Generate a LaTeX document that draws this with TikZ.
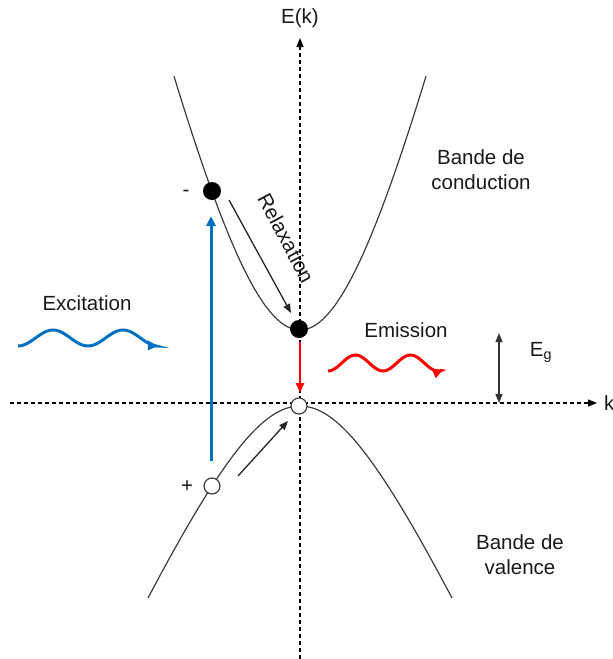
\documentclass[tikz,border=0pt]{standalone}
\usepackage{fontspec}
\setmainfont{Liberation Sans}
\usetikzlibrary{arrows.meta}
\definecolor{exblue}{RGB}{0,112,192}
\definecolor{curvegray}{RGB}{60,60,60}
\begin{document}
\begin{tikzpicture}[x=1pt,y=-1pt,
  txt/.style={font=\fontsize{20.5}{25}\selectfont, inner sep=0pt, text=black!90},
  axis/.style={draw=black, line width=1.3pt, dash pattern=on 4pt off 3pt, -{Triangle[length=9pt,width=7pt]}},
  band/.style={draw=curvegray, line width=1.2pt},
  bdot/.style={circle, fill=black, minimum size=18pt, inner sep=0pt},
  wdot/.style={circle, draw=curvegray, fill=white, line width=1.2pt, minimum size=16pt, inner sep=0pt},
  thinarrow/.style={draw=black!85, line width=1.3pt, -{Triangle[length=9pt,width=7pt]}},
  wave/.style={line width=3pt, -{Triangle[length=10pt,width=9pt]}}
]
\useasboundingbox (0,0) rectangle (613,659);
% axes
\coordinate (vb) at (300,659);
\coordinate (vt) at (300,38);
\coordinate (hl) at (10,403);
\coordinate (hr) at (597,403);
\draw[axis] (vb) -- (vt);
\draw[axis] (hl) -- (hr);
\node[txt] (Ek) at (300,18) {E(k)};
\node[txt, anchor=west] (k) at (604,403) {k};
% bands
\draw[band] plot[smooth, domain=-126:126, samples=61] ({300+\x},{330-417*(sqrt(1+(\x/100)*(\x/100))-1)});
\draw[band] plot[smooth, domain=-152:152, samples=61] ({300+\x},{406+189.5*(sqrt(1+(\x/87)*(\x/87))-1)});
% particles
\node[bdot] (e1) at (212,191) {};
\node[bdot] (e0) at (299,329) {};
\node[wdot] (h1) at (212,486) {};
\node[wdot] (h0) at (299,406) {};
\node[txt] (minus) at (186,193) {-};
\node[txt] (plus) at (187,487) {+};
% excitation
\coordinate (bs) at (211,461);
\coordinate (bt) at (211,216);
\draw[exblue, line width=3pt, -{Triangle[length=10pt,width=9pt]}] (bs) -- (bt);
% relaxation
\coordinate (rs) at (229,200);
\coordinate (rt) at (291,313);
\draw[thinarrow] (rs) -- (rt);
\node[txt, rotate=-62] (relax) at (286,238) {Relaxation};
% recombination
\coordinate (es) at (300,342);
\coordinate (et) at (300,393);
\draw[red, line width=2.5pt, -{Triangle[length=10pt,width=8pt]}] (es) -- (et);
% hole relaxation
\coordinate (hs) at (238,476);
\coordinate (ht) at (288,421);
\draw[thinarrow] (hs) -- (ht);
% Eg
\coordinate (gt) at (499,333);
\coordinate (gb) at (499,403);
\draw[draw=black!80, line width=1.3pt, {Triangle[length=9pt,width=7pt]}-{Triangle[length=9pt,width=7pt]}] (gt) -- (gb);
\node[txt] (Eg) at (541,352) {E\textsubscript{g}};
% waves
\node[txt] (exc) at (87,303) {Excitation};
\draw[exblue, wave] plot[smooth, domain=18:158, samples=60] (\x,{338+8*cos((\x-18)/70*360)});
\node[txt] (emi) at (406,330) {Emission};
\draw[red, wave] plot[smooth, domain=328:443, samples=60] (\x,{363+8*cos((\x-328)/55*360)});
% band labels
\node[txt, align=center] (cb) at (481,170) {Bande de\\conduction};
\node[txt, align=center] (vbl) at (520,555) {Bande de\\valence};
\end{tikzpicture}
\end{document}
